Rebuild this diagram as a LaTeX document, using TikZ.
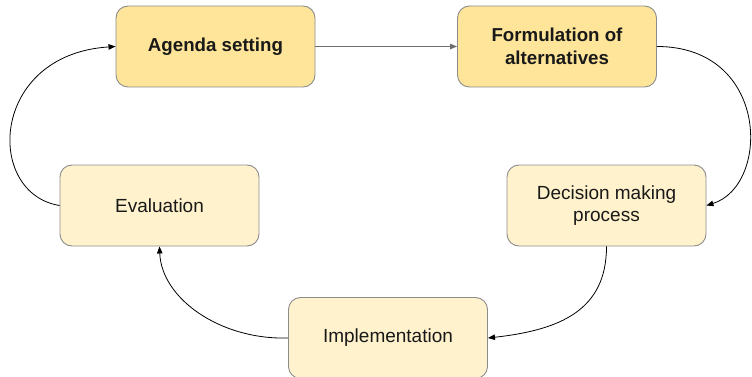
\documentclass[tikz,border=0pt]{standalone}
\usepackage{fontspec}
\setmainfont{Liberation Sans}
\usetikzlibrary{arrows.meta}
\definecolor{darkfill}{HTML}{FFE599}
\definecolor{lightfill}{HTML}{FFF2CC}
\definecolor{boxline}{HTML}{8C8C8C}
\definecolor{grayarrow}{HTML}{6E6E6E}
\begin{document}
\begin{tikzpicture}[x=1pt,y=-1pt,
  stage/.style={draw=boxline, line width=0.9pt, rounded corners=12pt, minimum width=199pt, minimum height=81pt, inner sep=0pt, align=center, font=\fontsize{19}{22.5}\selectfont, text=black!90},
  keystage/.style={stage, fill=darkfill, font=\fontsize{18.7}{22.5}\selectfont\bfseries},
  minorstage/.style={stage, fill=lightfill},
  flow/.style={line width=0.8pt, -{Triangle[length=7pt,width=5.5pt]}},
]
\useasboundingbox (0,0) rectangle (752,377);
\begin{scope}
\clip (0,0) rectangle (752,377);
\node[keystage] (agenda) at (215.5,46.5) {Agenda setting};
\node[keystage] (form) at (557,46.5) {Formulation of\\alternatives};
\node[minorstage] (dec) at (606.5,205.5) {Decision making\\process};
\node[minorstage] (eval) at (159.5,205.5) {Evaluation};
\node[minorstage] (impl) at (388,338) {Implementation};

\draw[flow, grayarrow] (agenda) -- (form);
\draw[flow] (form.east) .. controls +(113,0) and +(64,-20) .. (dec.east);
\draw[flow] (dec.south) .. controls +(0,64) and +(72,-8) .. (impl.east);
\draw[flow] (impl.west) .. controls +(-68,2) and +(2,52) .. (eval.south);
\draw[flow] (eval.west) .. controls +(-75,-12) and +(-126,8) .. (agenda.west);
\end{scope}
\end{tikzpicture}
\end{document}
